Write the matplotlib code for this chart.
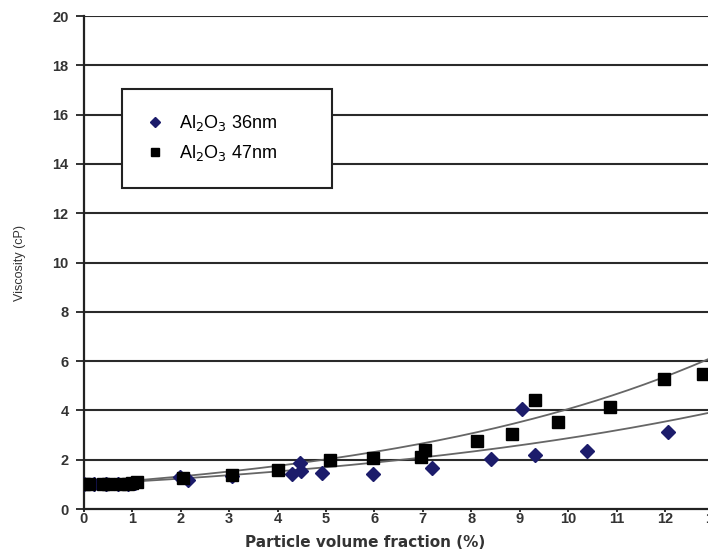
import numpy as np
import matplotlib.pyplot as plt

plt.rcParams["font.family"] = ["Liberation Sans", "DejaVu Sans"]

# Al2O3 36nm (diamonds)
x_36 = [0.0, 0.2, 0.45, 0.7, 0.9, 1.05, 1.98, 2.15, 3.05, 4.3, 4.46, 4.48, 4.92, 5.97,
        7.19, 8.4, 9.04, 9.32, 10.4, 12.07]
y_36 = [1.0, 1.0, 1.02, 1.0, 1.03, 1.05, 1.31, 1.17, 1.32, 1.42, 1.88, 1.54, 1.47, 1.42,
        1.67, 2.04, 4.05, 2.19, 2.35, 3.13]

# Al2O3 47nm (squares)
x_47 = [0.0, 0.1, 0.4, 0.5, 0.75, 0.9, 1.0, 1.1, 2.05, 3.05, 4.0, 5.08, 5.96,
        6.96, 7.05, 8.12, 8.84, 9.32, 9.79, 10.87, 11.98, 12.78]
y_47 = [1.0, 1.0, 1.03, 1.0, 1.0, 1.02, 1.05, 1.08, 1.25, 1.38, 1.6, 1.98, 2.08,
        2.12, 2.39, 2.75, 3.04, 4.41, 3.53, 4.13, 5.26, 5.47]

# exponential trend lines  y = a * exp(b * x)
fit_36 = (1.0, 0.1055)
fit_47 = (1.0, 0.14)

fig = plt.figure(figsize=(7.08, 5.54), dpi=100)
ax = fig.add_axes([0.1186, 0.0812, 0.889, 0.8899])

ax.set_xlim(0, 13)
ax.set_ylim(0, 20)
ax.set_xticks(range(0, 14))
ax.set_yticks(range(0, 21, 2))

for y in range(2, 21, 2):
    ax.axhline(y, color="#2a2a2a", lw=1.5, zorder=1)

xs = np.linspace(0, 13, 200)
ax.plot(xs, fit_36[0] * np.exp(fit_36[1] * xs), color="#666666", lw=1.3, zorder=2)
ax.plot(xs, fit_47[0] * np.exp(fit_47[1] * xs), color="#666666", lw=1.3, zorder=2)

ax.plot(x_36, y_36, "D", color="#1c1c6b", ms=7, ls="none", zorder=3,
        label="Al$_2$O$_3$ 36nm")
ax.plot(x_47, y_47, "s", color="black", ms=8.5, ls="none", zorder=4,
        label="Al$_2$O$_3$ 47nm")

for side in ["top", "right"]:
    ax.spines[side].set_visible(False)
for side in ["left", "bottom"]:
    ax.spines[side].set_linewidth(1.6)
    ax.spines[side].set_color("#222222")

ax.tick_params(axis="y", direction="out", length=6, width=1.3, labelsize=10.5,
               color="#222222", pad=5)
ax.tick_params(axis="x", direction="out", length=2, width=1.3, labelsize=10.5,
               color="#222222", pad=0)
for lab in ax.get_xticklabels() + ax.get_yticklabels():
    lab.set_fontweight("bold")
    lab.set_color("#333333")

ax.set_xlabel("Particle volume fraction (%)", fontsize=11, fontweight="bold",
              color="#333333", family=["DejaVu Sans"])
ax.xaxis.set_label_coords(0.446, -0.052)
ax.set_ylabel("Viscosity (cP)", fontsize=9, color="#333333")
ax.yaxis.set_label_coords(-0.092, 0.5)

leg = ax.legend(loc="upper left", bbox_to_anchor=(0.0604, 0.752, 0.3337, 0.1),
                mode="expand", fontsize=13, frameon=True, fancybox=False,
                handlelength=1.0, handletextpad=0.8, borderpad=1.35,
                labelspacing=0.55, borderaxespad=0, markerscale=0.75)
leg.get_frame().set_edgecolor("#222222")
leg.get_frame().set_linewidth(1.5)
leg.get_frame().set_alpha(1)
leg.set_zorder(5)

fig.savefig("out.png", dpi=100)
